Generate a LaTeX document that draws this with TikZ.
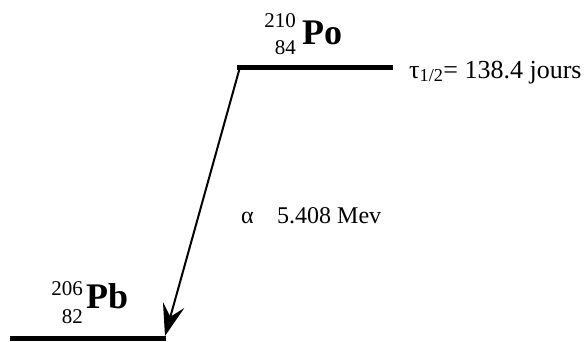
\documentclass[tikz,border=0pt]{standalone}
\usepackage{fontspec}
\setmainfont{Liberation Serif}
\usetikzlibrary{arrows.meta}
\begin{document}
\begin{tikzpicture}[x=1pt,y=1pt,
  level/.style={line width=5pt},
  decay/.style={line width=2pt,-{Stealth[length=32pt,width=22pt,inset=12pt]}},
  txt/.style={inner sep=0pt,font=\fontsize{24}{24}\selectfont},
  iso/.style={inner sep=0pt,font=\fontsize{21}{21}\selectfont},
  elem/.style={inner sep=0pt,font=\fontsize{36}{36}\selectfont\bfseries}]
\useasboundingbox (0,0) rectangle (587,341);
% levels
\coordinate (poL) at (237,274);
\coordinate (poR) at (393,274);
\coordinate (pbL) at (10,3);
\coordinate (pbR) at (166,3);
\coordinate (aS) at (240,274);
\coordinate (aE) at (165,5);
\draw[level] (poL) -- (poR);
\draw[level] (pbL) -- (pbR);
\draw[decay] (aS) -- (aE);
% Po
\node[elem,anchor=base west] (po) at (302,297) {Po};
\node[iso,anchor=base east] (poA) at (296,313) {210};
\node[iso,anchor=base east] (poZ) at (296,287) {84};
\node[txt,font=\fontsize{26}{26}\selectfont,anchor=base west] (tau) at (409,263) {τ\textsubscript{1/2}= 138.4 jours};
% alpha
\node[txt,anchor=base west] (alpha) at (241,118) {α};
\node[txt,anchor=base west] (en) at (277,118) {5.408 Mev};
% Pb
\node[elem,anchor=base west] (pb) at (86,33) {Pb};
\node[iso,anchor=base east] (pbA) at (83,46) {206};
\node[iso,anchor=base east] (pbZ) at (83,18) {82};
\end{tikzpicture}
\end{document}
